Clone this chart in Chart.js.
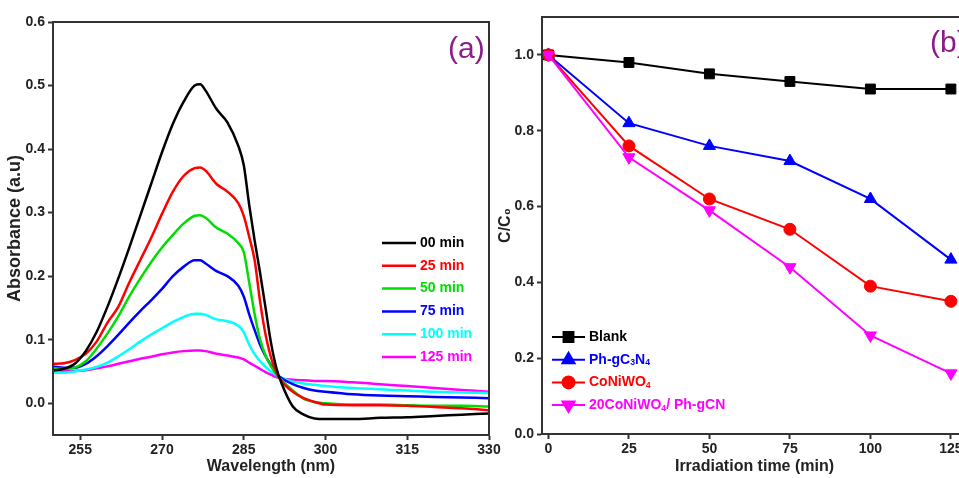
<!DOCTYPE html>
<html>
<head>
<meta charset="utf-8">
<script src="https://cdn.jsdelivr.net/npm/chart.js@4.4.1/dist/chart.umd.min.js"></script>
<style>
  html, body { margin: 0; padding: 0; background: #fff; overflow: hidden; }
  #chartA { position: absolute; left: 0; top: 0; }
  #chartB { position: absolute; left: 495px; top: 0; }
</style>
</head>
<body>
<canvas id="chartA" width="502" height="478"></canvas>
<canvas id="chartB" width="480" height="478"></canvas>
<script>
// (a) UV-vis spectra
const wavelength = [250, 252, 254, 256, 258, 260, 262, 264, 266, 268, 270, 272, 274, 276, 277, 278, 280, 282, 284, 285,
                    286, 287, 288, 289, 290, 291, 292, 294, 296, 298, 300, 305, 310, 315, 320, 325, 330];
const abs00 = [0.052, 0.054, 0.062, 0.082, 0.112, 0.152, 0.197, 0.245, 0.295, 0.345, 0.395, 0.440, 0.475, 0.500, 0.502, 0.492, 0.463, 0.442, 0.405, 0.375,
               0.312, 0.256, 0.205, 0.150, 0.095, 0.055, 0.030, -0.005, -0.018, -0.024, -0.025, -0.025, -0.023, -0.022, -0.020, -0.018, -0.016];
const abs25 = [0.062, 0.063, 0.068, 0.078, 0.097, 0.127, 0.152, 0.190, 0.225, 0.260, 0.298, 0.333, 0.358, 0.370, 0.371, 0.366, 0.345, 0.333, 0.315, 0.295,
               0.262, 0.225, 0.160, 0.108, 0.072, 0.048, 0.034, 0.018, 0.008, 0.002, -0.002, -0.003, -0.003, -0.004, -0.006, -0.008, -0.011];
const abs50 = [0.055, 0.054, 0.056, 0.066, 0.086, 0.110, 0.137, 0.168, 0.196, 0.222, 0.245, 0.265, 0.283, 0.295, 0.296, 0.292, 0.276, 0.267, 0.252, 0.238,
               0.190, 0.140, 0.100, 0.075, 0.058, 0.046, 0.036, 0.020, 0.007, 0.002, 0.000, -0.002, -0.002, -0.003, -0.004, -0.004, -0.005];
const abs75 = [0.058, 0.056, 0.056, 0.062, 0.074, 0.090, 0.108, 0.127, 0.145, 0.162, 0.180, 0.200, 0.215, 0.225, 0.225, 0.220, 0.208, 0.200, 0.185, 0.168,
               0.140, 0.115, 0.092, 0.074, 0.060, 0.046, 0.039, 0.030, 0.024, 0.020, 0.018, 0.014, 0.012, 0.011, 0.010, 0.009, 0.008];
const abs100 = [0.048, 0.048, 0.050, 0.053, 0.057, 0.064, 0.074, 0.085, 0.097, 0.108, 0.118, 0.128, 0.136, 0.141, 0.141, 0.139, 0.132, 0.129, 0.122, 0.112,
                0.092, 0.077, 0.066, 0.057, 0.050, 0.044, 0.040, 0.034, 0.031, 0.029, 0.027, 0.024, 0.022, 0.020, 0.018, 0.017, 0.016];
const abs125 = [0.052, 0.051, 0.051, 0.052, 0.055, 0.058, 0.062, 0.066, 0.070, 0.073, 0.077, 0.080, 0.082, 0.083, 0.083, 0.082, 0.078, 0.075, 0.072, 0.069,
                0.064, 0.059, 0.054, 0.049, 0.045, 0.041, 0.039, 0.037, 0.036, 0.035, 0.035, 0.033, 0.030, 0.027, 0.024, 0.021, 0.018];
const spectraLabels = ['00 min', '25 min', '50 min', '75 min', '100 min', '125 min'];
const waveTicks = [255, 270, 285, 300, 315, 330];
const absTicks = [0.0, 0.1, 0.2, 0.3, 0.4, 0.5, 0.6];

// (b) degradation kinetics
const times = [0, 25, 50, 75, 100, 125];
const blank = [1.0, 0.98, 0.95, 0.93, 0.91, 0.91];
const phgcn = [1.0, 0.82, 0.76, 0.72, 0.62, 0.46];
const coniwo = [1.0, 0.76, 0.62, 0.54, 0.39, 0.35];
const composite = [1.0, 0.73, 0.59, 0.44, 0.26, 0.16];
const kineticLabels = ['Blank', 'Ph-gC₃N₄', 'CoNiWO₄', '20CoNiWO₄/ Ph-gCN'];
const timeTicks = [0, 25, 50, 75, 100, 125];
const ratioTicks = [0.0, 0.2, 0.4, 0.6, 0.8, 1.0];

const FONT = "'Liberation Sans', Arial, sans-serif";
Chart.defaults.font.family = FONT;
Chart.defaults.color = '#222';

// draw text, rendering unicode subscript digits small and lowered
function drawRich(ctx, text, x, y, size) {
  const subs = '₀₁₂₃₄₅₆₇₈₉';
  let run = '', isSub = false;
  const flush = () => {
    if (!run) return;
    ctx.font = 'bold ' + (isSub ? size * 0.62 : size) + 'px ' + FONT;
    ctx.fillText(run, x, isSub ? y + size * 0.22 : y);
    x += ctx.measureText(run).width;
    run = '';
  };
  for (const ch of text) {
    const k = subs.indexOf(ch);
    const s = k >= 0;
    if (s !== isSub) { flush(); isSub = s; }
    run += s ? String(k) : ch;
  }
  flush();
}

const framePlugin = {
  id: 'frame',
  afterDatasetsDraw(chart, args, opts) {
    const { ctx, chartArea: a } = chart;
    ctx.save();
    ctx.strokeStyle = '#333';
    ctx.lineWidth = 2;
    ctx.strokeRect(a.left, a.top, a.right - a.left, a.bottom - a.top);

    ctx.fillStyle = '#8B1C8B';
    ctx.font = '30px ' + FONT;
    ctx.textAlign = 'left';
    ctx.textBaseline = 'middle';
    ctx.fillText(opts.tag, opts.tagX, opts.tagY);

    const L = opts.legend;
    chart.data.datasets.forEach((ds, i) => {
      const y = L.y + i * L.step;
      ctx.strokeStyle = ds.borderColor;
      ctx.fillStyle = ds.borderColor;
      ctx.lineWidth = ds.borderWidth;
      ctx.beginPath();
      ctx.moveTo(L.x1, y);
      ctx.lineTo(L.x2, y);
      ctx.stroke();
      if (ds.pointStyle) {
        Chart.helpers.drawPoint(ctx, {
          pointStyle: ds.pointStyle, rotation: ds.pointRotation || 0,
          radius: ds.pointRadius, borderWidth: 1
        }, (L.x1 + L.x2) / 2, y);
      }
      ctx.fillStyle = ds.borderColor;
      drawRich(ctx, ds.label, L.textX, y, L.size);
    });
    ctx.restore();
  }
};

const axisGrid = { drawOnChartArea: false, drawTicks: true, tickLength: 5, tickWidth: 2, tickColor: '#333' };
const axisBorder = { color: '#333', width: 2 };
const tickFont = { size: 14, weight: 'bold' };
const titleFont = { size: 16, weight: 'bold' };

// chart (a)
const spectraSeries = [abs00, abs25, abs50, abs75, abs100, abs125];
const spectraColors = ['#000000', '#ff0000', '#00dd00', '#0000ff', '#00ffff', '#ff00ff'];

new Chart(document.getElementById('chartA'), {
  type: 'line',
  data: {
    datasets: spectraSeries.map((vals, i) => ({
      label: spectraLabels[i],
      data: wavelength.map((w, j) => ({ x: w, y: vals[j] })),
      borderColor: spectraColors[i],
      borderWidth: 2.5,
      pointRadius: 0,
      cubicInterpolationMode: 'monotone',
      fill: false
    }))
  },
  options: {
    responsive: false,
    animation: false,
    layout: { padding: { top: 22, right: 13, left: 0, bottom: 0 } },
    plugins: {
      legend: { display: false },
      tooltip: { enabled: false },
      frame: {
        tag: '(a)', tagX: 448, tagY: 50,
        legend: { x1: 382, x2: 416, textX: 420, y: 243, step: 22.8, size: 14 }
      }
    },
    scales: {
      x: {
        type: 'linear', min: 250, max: 330,
        afterBuildTicks: s => { s.ticks = waveTicks.map(v => ({ value: v })); },
        afterFit: s => { s.height = 43; s.paddingLeft = 0; s.paddingRight = 0; },
        grid: axisGrid, border: axisBorder,
        ticks: { font: tickFont, color: '#222', padding: 2, maxRotation: 0, autoSkip: false },
        title: { display: true, text: 'Wavelength (nm)', font: titleFont, color: '#222', padding: { top: 0, bottom: 2 } }
      },
      y: {
        min: -0.05, max: 0.6,
        afterBuildTicks: s => { s.ticks = absTicks.map(v => ({ value: v })); },
        afterFit: s => { s.width = 53; },
        grid: axisGrid, border: axisBorder,
        ticks: { font: tickFont, color: '#222', padding: 3, callback: v => v.toFixed(1) },
        title: { display: true, text: 'Absorbance (a.u)', font: { size: 18, weight: 'bold' }, color: '#222', padding: { top: 4, bottom: 0 } }
      }
    }
  },
  plugins: [framePlugin]
});

// chart (b)
const kineticSeries = [blank, phgcn, coniwo, composite];
const kineticColors = ['#000000', '#0000ff', '#ff0000', '#ff00ff'];
const kineticPoints = ['rect', 'triangle', 'circle', 'triangle'];
const kineticRadius = [7, 7, 6, 7];
const kineticRotation = [0, 0, 0, 180];

new Chart(document.getElementById('chartB'), {
  type: 'line',
  data: {
    datasets: kineticSeries.map((vals, i) => ({
      label: kineticLabels[i],
      data: times.map((t, j) => ({ x: t, y: vals[j] })),
      borderColor: kineticColors[i],
      backgroundColor: kineticColors[i],
      borderWidth: 2,
      pointStyle: kineticPoints[i],
      pointRadius: kineticRadius[i],
      pointRotation: kineticRotation[i],
      pointBorderWidth: 1,
      order: 4 - i,
      fill: false
    }))
  },
  options: {
    responsive: false,
    animation: false,
    layout: { padding: { top: 17, right: 7, left: 0, bottom: 0 } },
    plugins: {
      legend: { display: false },
      tooltip: { enabled: false },
      frame: {
        tag: '(b)', tagX: 435, tagY: 44,
        legend: { x1: 57, x2: 90, textX: 94, y: 337, step: 22.7, size: 14 }
      }
    },
    scales: {
      x: {
        type: 'linear', min: -2, max: 130,
        afterBuildTicks: s => { s.ticks = timeTicks.map(v => ({ value: v })); },
        afterFit: s => { s.height = 44; s.paddingLeft = 0; s.paddingRight = 0; },
        grid: axisGrid, border: axisBorder,
        ticks: { font: tickFont, color: '#222', padding: 2, maxRotation: 0, autoSkip: false },
        title: { display: true, text: 'Irradiation time (min)', font: titleFont, color: '#222', padding: { top: 0, bottom: 2 } }
      },
      y: {
        min: 0, max: 1.1,
        afterBuildTicks: s => { s.ticks = ratioTicks.map(v => ({ value: v })); },
        afterFit: s => { s.width = 47; },
        grid: axisGrid, border: axisBorder,
        ticks: { font: tickFont, color: '#222', padding: 3, callback: v => v.toFixed(1) },
        title: { display: true, text: 'C/C₀', font: { size: 16, weight: 'bold' }, color: '#222', padding: { top: 1, bottom: 0 } }
      }
    }
  },
  plugins: [framePlugin]
});
</script>
</body>
</html>
